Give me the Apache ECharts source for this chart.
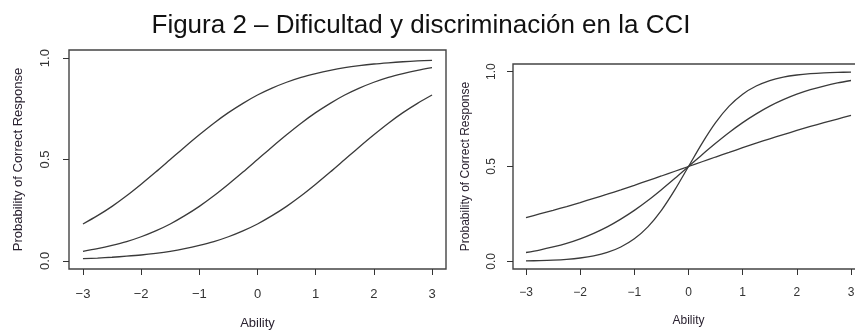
<!DOCTYPE html>
<html>
<head>
<meta charset="utf-8">
<script src="https://cdn.jsdelivr.net/npm/echarts@6/dist/echarts.min.js"></script>
<style>html,body{margin:0;padding:0;background:#fff}#c{width:855px;height:331px}</style>
</head>
<body>
<div id="c"></div>
<script>
// Ability grid (x values)
const ability = [-3,-2.75,-2.5,-2.25,-2,-1.75,-1.5,-1.25,-1,-0.75,-0.5,-0.25,0,0.25,0.5,0.75,1,1.25,1.5,1.75,2,2.25,2.5,2.75,3];

// Left panel: difficulty (three items)
const leftEasy = [0.182,0.223,0.269,0.321,0.378,0.438,0.5,0.562,0.622,0.679,0.731,0.777,0.818,0.852,0.881,0.905,0.924,0.940,0.953,0.963,0.971,0.977,0.982,0.986,0.989];
const leftMid  = [0.047,0.060,0.076,0.095,0.119,0.148,0.182,0.223,0.269,0.321,0.378,0.438,0.5,0.562,0.622,0.679,0.731,0.777,0.818,0.852,0.881,0.905,0.924,0.940,0.953];
const leftHard = [0.011,0.014,0.018,0.023,0.029,0.037,0.047,0.060,0.076,0.095,0.119,0.148,0.182,0.223,0.269,0.321,0.378,0.438,0.5,0.562,0.622,0.679,0.731,0.777,0.818];

// Right panel: discrimination (three items)
const rightFlat  = [0.231,0.250,0.269,0.289,0.310,0.332,0.354,0.377,0.401,0.426,0.450,0.475,0.5,0.525,0.550,0.574,0.599,0.623,0.646,0.668,0.690,0.711,0.731,0.750,0.769];
const rightMid   = [0.047,0.060,0.076,0.095,0.119,0.148,0.182,0.223,0.269,0.321,0.378,0.438,0.5,0.562,0.622,0.679,0.731,0.777,0.818,0.852,0.881,0.905,0.924,0.940,0.953];
const rightSteep = [0.0025,0.0041,0.0067,0.011,0.018,0.029,0.047,0.076,0.119,0.182,0.269,0.378,0.5,0.622,0.731,0.818,0.881,0.924,0.953,0.971,0.982,0.989,0.9933,0.9959,0.9975];

// Tick labels
const xTicks = [-3,-2,-1,0,1,2,3];
const yTicks = [0,0.5,1];
const yTickLabels = ['0.0','0.5','1.0'];

const titleText = 'Figura 2 \u2013 Dificultad y discriminaci\u00f3n en la CCI';
const xName = 'Ability';
const yName = 'Probability of Correct Response';

const font = '"Liberation Sans", Arial, sans-serif';
const ink = '#333';

function pairs(ys){ return ability.map((x,i)=>[x, ys[i]]); }

function xAxis(idx, fs, margin, gap){
  return {
    type:'value', gridIndex: idx, min:-3.24, max:3.24,
    axisLine:{show:false, onZero:false},
    splitLine:{show:false},
    axisTick:{show:true, inside:false, length:6, customValues:xTicks, lineStyle:{color:ink, width:1}},
    axisLabel:{customValues:xTicks, margin:margin, fontSize:fs, fontFamily:font, color:ink,
      formatter: v => (v<0 ? '\u2212'+Math.abs(v) : String(v))},
    name:xName, nameLocation:'middle', nameGap:gap,
    nameTextStyle:{fontSize:fs, fontFamily:font, color:'#2a2230'}
  };
}
function yAxis(idx, fs, margin, gap){
  return {
    type:'value', gridIndex: idx, min:-0.04, max:1.04,
    axisLine:{show:false, onZero:false},
    splitLine:{show:false},
    axisTick:{show:true, inside:false, length:6, customValues:yTicks, lineStyle:{color:ink, width:1}},
    axisLabel:{customValues:yTicks, rotate:90, margin:margin, fontSize:fs, fontFamily:font, color:ink,
      formatter: v => yTickLabels[yTicks.indexOf(v)]},
    name:yName, nameLocation:'middle', nameGap:gap, nameRotate:90,
    nameTextStyle:{fontSize:fs, fontFamily:font, color:'#2a2230'}
  };
}
function line(data, xi){
  return {type:'line', xAxisIndex:xi, yAxisIndex:xi, data:pairs(data), showSymbol:false,
    smooth:0.3, lineStyle:{color:'#3a3a3a', width:1.3}, silent:true};
}

const chart = echarts.init(document.getElementById('c'), null, {renderer:'canvas'});
chart.setOption({
  animation:false,
  backgroundColor:'#fff',
  title:{text:titleText, left:416, textAlign:'center', top:8,
    textStyle:{fontFamily:font, fontSize:26, fontWeight:'normal', color:'#111'}},
  grid:[
    {left:69, top:50, width:377, height:219, show:true, borderColor:'#444', borderWidth:1.4, outerBoundsMode:'none', containLabel:false},
    {left:513, top:64, width:351, height:205, show:true, borderColor:'#444', borderWidth:1.4, outerBoundsMode:'none', containLabel:false}
  ],
  xAxis:[xAxis(0,13,19,48), xAxis(1,12,18,46)],
  yAxis:[yAxis(0,13,17,44), yAxis(1,12,15,41)],
  series:[
    line(leftEasy,0), line(leftMid,0), line(leftHard,0),
    line(rightFlat,1), line(rightMid,1), line(rightSteep,1)
  ]
});
</script>
</body>
</html>
